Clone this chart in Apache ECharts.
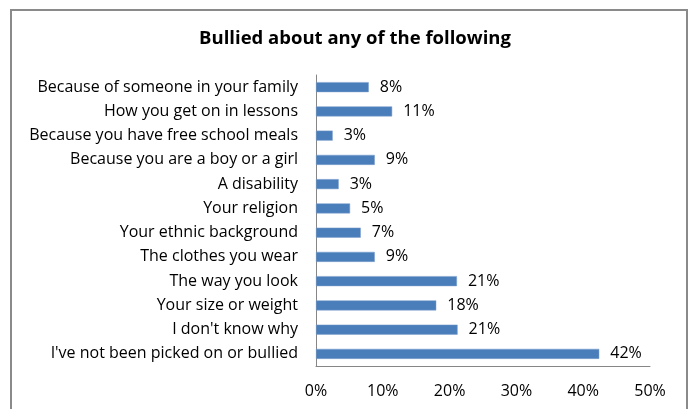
<!DOCTYPE html>
<html>
<head>
<meta charset="utf-8">
<script src="https://cdn.jsdelivr.net/npm/echarts@6/dist/echarts.min.js"></script>
<style>
  html, body { margin: 0; padding: 0; background: #fff; }
  #chart { width: 694px; height: 409px; }
</style>
</head>
<body>
<div id="chart"></div>
<script>
// data, top to bottom
const categories = [
  'Because of someone in your family',
  'How you get on in lessons',
  'Because you have free school meals',
  'Because you are a boy or a girl',
  'A disability',
  'Your religion',
  'Your ethnic background',
  'The clothes you wear',
  'The way you look',
  'Your size or weight',
  "I don't know why",
  "I've not been picked on or bullied"
];
const values = [7.9, 11.4, 2.5, 8.8, 3.4, 5.1, 6.7, 8.8, 21.1, 18.0, 21.2, 42.4];
const valueLabels = ['8%', '11%', '3%', '9%', '3%', '5%', '7%', '9%', '21%', '18%', '21%', '42%'];
const xTicks = [0, 10, 20, 30, 40, 50];

const font = 'Open Sans';

const myChart = echarts.init(document.getElementById('chart'));

const option = {
  backgroundColor: '#fff',
  animation: false,
  title: {
    text: 'Bullied about any of the following',
    left: 350,
    top: 24,
    textAlign: 'center',
    textStyle: { fontFamily: font, fontWeight: 'bold', fontSize: 18.5, color: '#000' }
  },
  graphic: [{
    type: 'rect',
    shape: { x: 11, y: 10, width: 676, height: 430 },
    style: { fill: 'none', stroke: '#8a8a8a', lineWidth: 2 },
    silent: true
  }],
  grid: { left: 316, right: 44, top: 75, bottom: 43, containLabel: false },
  xAxis: {
    type: 'value',
    min: xTicks[0],
    max: xTicks[xTicks.length - 1],
    interval: 10,
    axisLine: { show: true, lineStyle: { color: '#868686', width: 1 } },
    axisTick: { show: false },
    splitLine: { show: false },
    axisLabel: {
      formatter: '{value}%',
      margin: 17,
      fontFamily: font,
      fontSize: 16,
      color: '#000'
    }
  },
  yAxis: {
    type: 'category',
    data: categories,
    inverse: true,
    axisLine: { show: true, lineStyle: { color: '#868686', width: 1 } },
    axisTick: { show: false },
    axisLabel: {
      margin: 18,
      fontFamily: font,
      fontSize: 16,
      color: '#000'
    }
  },
  series: [{
    type: 'bar',
    data: values,
    barWidth: 10,
    itemStyle: { color: '#4a7ebb', borderColor: '#7d9fcc', borderWidth: 0.5 },
    label: {
      show: true,
      position: 'right',
      distance: 11,
      fontFamily: font,
      fontSize: 16,
      color: '#000',
      formatter: p => valueLabels[p.dataIndex]
    }
  }]
};

myChart.setOption(option);
</script>
</body>
</html>
